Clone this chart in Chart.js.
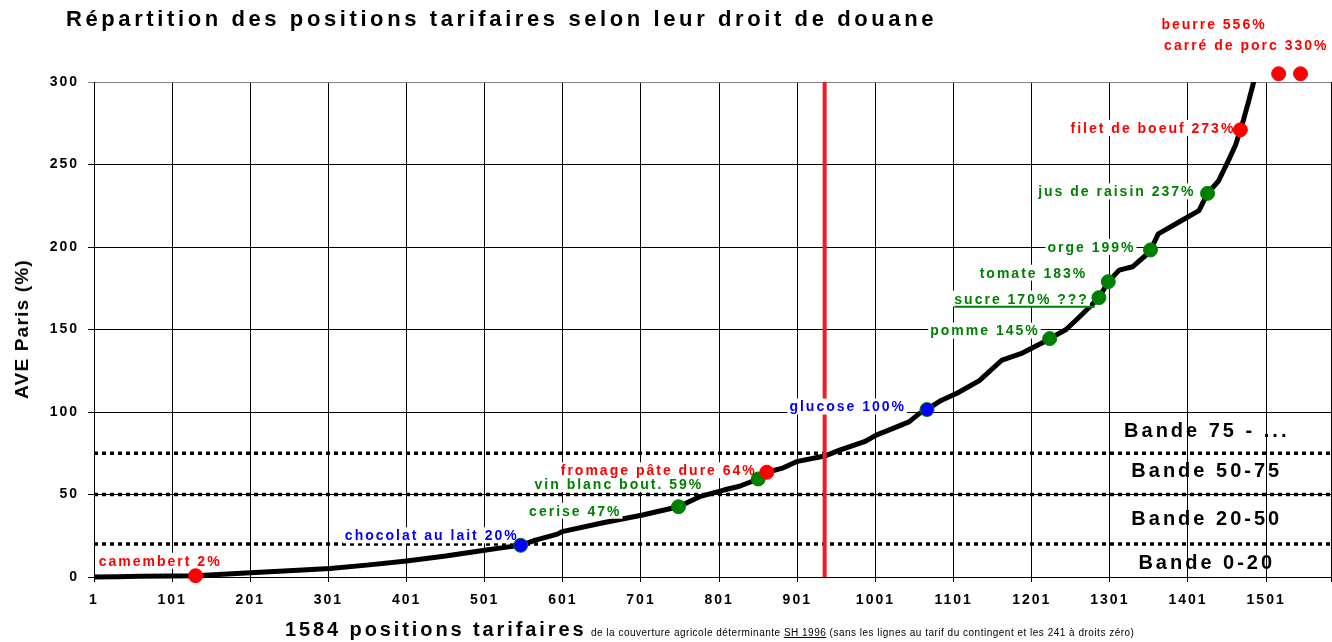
<!DOCTYPE html>
<html lang="fr">
<head>
<meta charset="utf-8">
<title>Répartition des positions tarifaires</title>
<script src="https://cdn.jsdelivr.net/npm/chart.js@4/dist/chart.umd.min.js"></script>
<style>
  html, body { margin: 0; padding: 0; background: #fff; }
  body { width: 1332px; height: 642px; position: relative; overflow: hidden; font-family: "Liberation Sans", Arial, sans-serif; color: #000; }
  #chart { position: absolute; left: 0; top: 0; }
  .title { position: absolute; left: 66px; top: 6px; font-weight: bold; font-size: 22px; letter-spacing: 3.6px; white-space: nowrap; }
  .ytitle { position: absolute; left: 22px; top: 329px; transform: translate(-50%, -50%) rotate(-90deg); font-weight: bold; font-size: 19px; letter-spacing: 1.2px; white-space: nowrap; }
  .xtitle { position: absolute; left: 285px; top: 618px; white-space: nowrap; }
  .xtitle b { font-size: 20px; letter-spacing: 2.9px; }
  .xtitle small { font-size: 10px; letter-spacing: 0.5px; }
</style>
</head>
<body>
<canvas id="chart" width="1332" height="642"></canvas>
<div class="title">Répartition des positions tarifaires selon leur droit de douane</div>
<div class="ytitle">AVE Paris (%)</div>
<div class="xtitle"><b>1584 positions tarifaires</b> <small>de la couverture agricole déterminante <u>SH 1996</u> (sans les lignes au tarif du contingent et les 241 à droits zéro)</small></div>
<script>
"use strict";

// ── données ─────────────────────────────────────────────────────
const NB_POSITIONS = 1584;
const xTicks = [1, 101, 201, 301, 401, 501, 601, 701, 801, 901, 1001, 1101, 1201, 1301, 1401, 1501];
const yTicks = [0, 50, 100, 150, 200, 250, 300];

// courbe : rang de la position → AVE (%)
const positions = [1, 30, 60, 100, 131, 160, 201, 250, 303, 350, 401, 451, 503, 520, 547, 566, 594, 600,
  651, 703, 749, 776, 807, 827, 851, 862, 881, 900, 936, 956, 987, 1002, 1018, 1044, 1057, 1067, 1085,
  1106, 1134, 1163, 1189, 1214, 1224, 1245, 1262, 1275, 1287, 1299, 1313, 1330, 1347, 1353, 1363, 1389,
  1415, 1426, 1440, 1453, 1462, 1468, 1472, 1479, 1485, 1490];
const ave = [0, 0.2, 0.4, 0.6, 0.8, 1.5, 2.6, 3.8, 5.2, 7.2, 9.7, 12.7, 16.4, 17.5, 19.2, 22.4, 26, 27.5,
  32.7, 37.6, 42.6, 48.7, 52.7, 55, 59.4, 63.5, 65.8, 69.9, 73.3, 77, 82, 86, 89, 94, 99, 101.5, 107,
  111.5, 119, 131.5, 135.7, 141.8, 144.5, 150, 157.6, 163.6, 169.3, 179, 186, 188, 195, 198.2, 208, 215,
  222, 232.5, 240, 252.7, 262, 271, 277, 289, 300, 330];

// produits repérés sur la courbe
const produits = ["camembert 2%", "chocolat au lait 20%", "cerise 47%", "vin blanc bout. 59%",
  "fromage pâte dure 64%", "glucose 100%", "pomme 145%", "sucre 170% ???", "tomate 183%", "orge 199%",
  "jus de raisin 237%", "filet de boeuf 273%", "beurre 556%", "carré de porc 330%"];
const produitPos = [131, 547, 749, 851, 862, 1067, 1224, 1287, 1299, 1353, 1426, 1468, 1517, 1545];
const produitAve = [0.8, 19.2, 42.6, 59.4, 63.5, 101.5, 144.5, 169.3, 179, 198.2, 232.5, 271, 305, 305];

// bandes de droits
const bandeLimites = [20, 50, 75];
const bandeNoms = ["Bande 0-20", "Bande 20-50", "Bande 50-75", "Bande 75 - ..."];
const positionRepere = 936; // trait vertical rouge

// ── styles ──────────────────────────────────────────────────────
const RED = "#ff0000", GREEN = "#008000", BLUE = "#0000ff";
const FONT = '"Liberation Sans", Arial, sans-serif';

// couleur + décalage (px) du bord droit / centre du texte par rapport au point
const labelLayout = [
  { c: RED, dx: 26, dy: -15 },
  { c: BLUE, dx: -2, dy: -10 },
  { c: GREEN, dx: -57, dy: 4 },
  { c: GREEN, dx: -55, dy: 5 },
  { c: RED, dx: -10, dy: -2 },
  { c: BLUE, dx: -21, dy: -3 },
  { c: GREEN, dx: -10, dy: -8 },
  { c: GREEN, dx: -10, dy: 1, underline: true },
  { c: GREEN, dx: -21, dy: -9 },
  { c: GREEN, dx: -15, dy: -3 },
  { c: GREEN, dx: -12, dy: -2 },
  { c: RED, dx: -5, dy: -2 },
  { c: RED, dx: -12, dy: -50 },
  { c: RED, dx: 28, dy: -29 },
];
const dotFill = labelLayout.map((l) => l.c);
const dotBorder = labelLayout.map((l) => (l.c === BLUE ? GREEN : l.c));

// position des libellés de bandes (centre, en unités du graphique)
const bandeLabelX = 1425;
const bandeLabelY = [8, 35, 64, 88];

// ── plugins ─────────────────────────────────────────────────────
const spacing = {
  id: "spacing",
  beforeDraw(chart) { chart.ctx.letterSpacing = "2px"; },
};

const etiquettes = {
  id: "etiquettes",
  afterDatasetDraw(chart, args) {
    if (args.index !== 1) return; // après le trait rouge, avant les points
    const { ctx, scales: { x, y } } = chart;
    ctx.save();
    ctx.letterSpacing = "2px";
    ctx.font = `bold 14px ${FONT}`;
    ctx.textBaseline = "middle";
    ctx.textAlign = "left";
    produits.forEach((txt, i) => {
      const l = labelLayout[i];
      const px = x.getPixelForValue(produitPos[i]);
      const py = y.getPixelForValue(produitAve[i]);
      const w = ctx.measureText(txt).width;
      const right = px + l.dx, cy = py + l.dy;
      ctx.fillStyle = "#fff";
      ctx.fillRect(right - w - 2, cy - 8, w + 3, 16);
      ctx.fillStyle = l.c;
      ctx.fillText(txt, right - w, cy + 1);
      if (l.underline) {
        ctx.strokeStyle = l.c;
        ctx.lineWidth = 2;
        ctx.beginPath();
        ctx.moveTo(right - w, cy + 8);
        ctx.lineTo(px - 4, cy + 8);
        ctx.stroke();
      }
    });
    ctx.letterSpacing = "3px";
    ctx.font = `bold 20px ${FONT}`;
    ctx.fillStyle = "#000";
    bandeNoms.forEach((txt, i) => {
      const w = ctx.measureText(txt).width;
      ctx.fillText(txt, x.getPixelForValue(bandeLabelX) - w / 2, y.getPixelForValue(bandeLabelY[i]));
    });
    ctx.restore();
  },
};

// ── graphique ───────────────────────────────────────────────────
const ligne = (v) => ({
  data: [{ x: 1, y: v }, { x: NB_POSITIONS, y: v }],
  showLine: true,
  borderColor: "#000",
  borderWidth: 3.5,
  borderDash: [4, 4],
  borderCapStyle: "butt",
  pointRadius: 0,
  clip: false,
});

new Chart(document.getElementById("chart"), {
  type: "scatter",
  data: {
    datasets: [
      {
        data: produitPos.map((p, i) => ({ x: p, y: produitAve[i] })),
        pointRadius: 7,
        pointHoverRadius: 12, // marge pour que Chart.js dessine aussi les points au-dessus de l'axe
        pointBackgroundColor: dotFill,
        pointBorderColor: dotBorder,
        pointBorderWidth: 1,
        clip: false,
      },
      {
        data: [{ x: positionRepere, y: 0 }, { x: positionRepere, y: 300 }],
        showLine: true,
        borderColor: "#ee1c24",
        borderWidth: 4,
        pointRadius: 0,
      },
      {
        data: positions.map((p, i) => ({ x: p, y: ave[i] })),
        showLine: true,
        borderColor: "#000",
        borderWidth: 5,
        borderJoinStyle: "round",
        pointRadius: 0,
        clip: { left: 0, top: 0, right: 0, bottom: 6 },
      },
      ...bandeLimites.slice().reverse().map(ligne),
    ],
  },
  options: {
    responsive: false,
    animation: false,
    devicePixelRatio: 1,
    events: [],
    // autoPadding réserverait la place du rayon des points à droite
    layout: { autoPadding: false, padding: { top: 82, right: 1, left: 0, bottom: 0 } },
    plugins: { legend: { display: false }, tooltip: { enabled: false } },
    scales: {
      x: {
        type: "linear",
        min: 1,
        max: NB_POSITIONS,
        afterBuildTicks: (s) => { s.ticks = xTicks.concat([NB_POSITIONS]).map((v) => ({ value: v })); },
        afterFit: (s) => { s.height = 65; },
        ticks: {
          autoSkip: false,
          maxRotation: 0,
          padding: 0,
          color: "#000",
          font: { family: FONT, size: 14, weight: "bold", lineHeight: 2.55 },
          callback: (v) => (xTicks.includes(v) ? String(v) : ""),
        },
        grid: { color: "#000", lineWidth: 1, tickLength: 5 },
        border: { color: "#000", width: 1 },
      },
      y: {
        min: 0,
        max: 300,
        afterBuildTicks: (s) => { s.ticks = yTicks.map((v) => ({ value: v })); },
        afterFit: (s) => { s.width = 94; },
        ticks: {
          padding: 9,
          color: "#000",
          font: { family: FONT, size: 14, weight: "bold" },
        },
        grid: { color: (c) => (c.tick && c.tick.value === 300 ? "#808080" : "#000"), lineWidth: 1, tickLength: 6 },
        border: { color: "#000", width: 1 },
      },
    },
  },
  plugins: [spacing, etiquettes],
});
</script>
</body>
</html>
